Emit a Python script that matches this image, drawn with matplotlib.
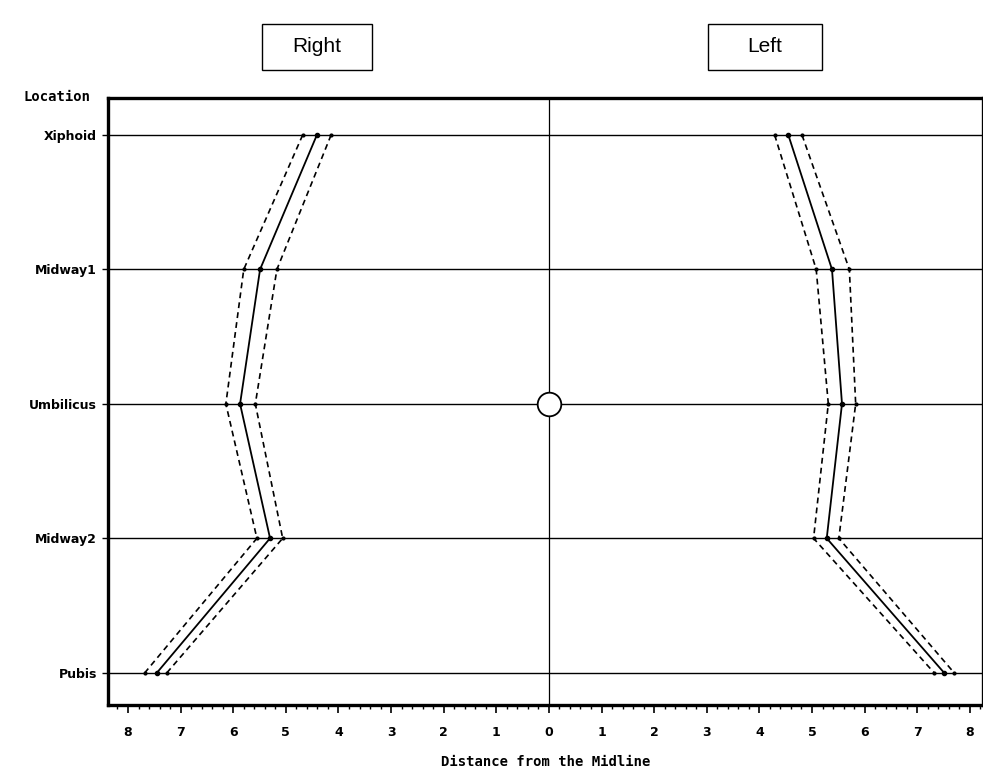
#!/usr/bin/env python3
"""Distance of markings from the midline, right vs left side."""

import matplotlib

matplotlib.use("Agg")
import matplotlib.pyplot as plt
from matplotlib.patches import Rectangle
from matplotlib.ticker import FuncFormatter, MultipleLocator

locations = ["Xiphoid", "Midway1", "Umbilicus", "Midway2", "Pubis"]
loc_y = [5, 4, 3, 2, 1]

# right side (drawn at negative x), mean and dashed bounds
right_mean = [4.41, 5.49, 5.87, 5.30, 7.45]
right_lo = [4.14, 5.17, 5.58, 5.06, 7.26]
right_hi = [4.68, 5.80, 6.14, 5.55, 7.68]

# left side
left_mean = [4.55, 5.38, 5.57, 5.28, 7.51]
left_lo = [4.29, 5.08, 5.31, 5.03, 7.32]
left_hi = [4.81, 5.71, 5.83, 5.51, 7.70]

x_ticks = list(range(-8, 9))

W, H = 983, 773
plt.rcParams["font.family"] = ["DejaVu Sans"]

fig = plt.figure(figsize=(W / 100, H / 100), dpi=100)
ax = fig.add_axes([108 / W, 1 - 705 / H, 1 - 108 / W, (705 - 98) / H])

for y in loc_y:
    ax.axhline(y, color="black", lw=1.0, zorder=1)
ax.axvline(0, color="black", lw=0.9, zorder=1)

neg = lambda vals: [-v for v in vals]
for mean, lo, hi in [(neg(right_mean), neg(right_lo), neg(right_hi)),
                     (left_mean, left_lo, left_hi)]:
    ax.plot(mean, loc_y, color="black", lw=1.3, marker="o", ms=3, zorder=3)
    ax.plot(lo, loc_y, color="black", lw=1.2, ls=(0, (3.5, 2.5)), marker="o", ms=2, zorder=3)
    ax.plot(hi, loc_y, color="black", lw=1.2, ls=(0, (3.5, 2.5)), marker="o", ms=2, zorder=3)

ax.plot([0], [3], marker="o", ms=17, mfc="white", mec="black", mew=1.3, zorder=4)

ax.set_xlim(-8.38, 8.25)
ax.set_ylim(0.76, 5.275)
ax.set_xticks(x_ticks)
ax.xaxis.set_minor_locator(MultipleLocator(0.2))
ax.xaxis.set_major_formatter(FuncFormatter(lambda v, p: f"{abs(int(round(v)))}"))
ax.set_yticks(loc_y)
ax.set_yticklabels(locations)

for side in ["left", "bottom", "top", "right"]:
    ax.spines[side].set_linewidth(2.4)

ax.tick_params(axis="x", which="major", length=6, width=1.2, labelsize=9, pad=9)
ax.tick_params(axis="x", which="minor", length=3, width=1.0)
ax.tick_params(axis="y", which="major", length=4, width=1.0, labelsize=9, pad=4)
for lab in ax.get_xticklabels() + ax.get_yticklabels():
    lab.set_fontweight("bold")

ax.set_xlabel("Distance from the Midline", fontsize=10, fontweight="bold",
              family="DejaVu Sans Mono", labelpad=12)
fig.text(57 / W, 1 - 97 / H, "Location", fontsize=10, fontweight="bold",
         family="DejaVu Sans Mono", ha="center", va="center")

for label, x0, x1 in [("Right", 262, 372), ("Left", 708, 822)]:
    fig.add_artist(Rectangle((x0 / W, 1 - 70 / H), (x1 - x0) / W, 46 / H,
                             transform=fig.transFigure, fc="white", ec="black", lw=1.0))
    fig.text((x0 + x1) / 2 / W, 1 - 47 / H, label, fontsize=15, family="Liberation Sans",
             ha="center", va="center")

fig.savefig("out.png", dpi=100)
